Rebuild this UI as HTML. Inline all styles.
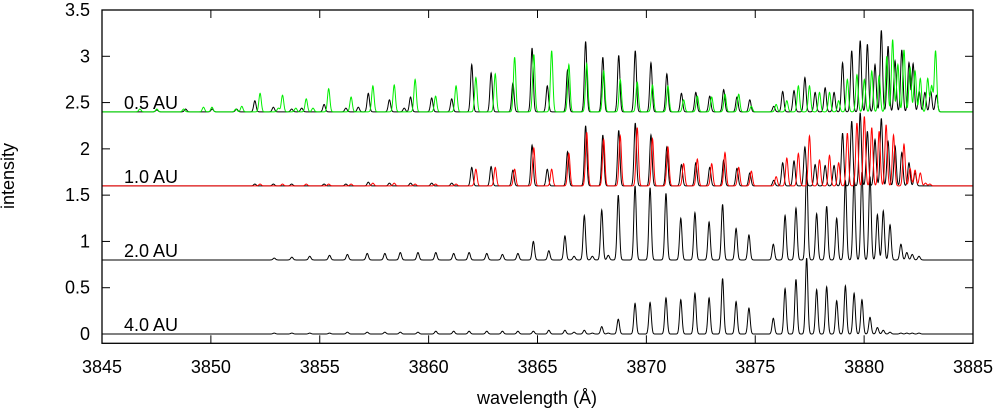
<!DOCTYPE html>
<html><head><meta charset="utf-8">
<style>
html,body{margin:0;padding:0;background:#fff;}
svg{display:block;font-family:"Liberation Sans",Arial,sans-serif;}
</style></head>
<body>
<svg id="chart" width="1000" height="413" viewBox="0 0 1000 413">
  <g id="series"></g>
  <rect x="102" y="10" width="871" height="333.3" fill="none" stroke="#000" stroke-width="1.3"/>
  <g id="axes"></g>
  <text x="14" y="176" transform="rotate(-90 14 176)" text-anchor="middle" font-size="18">intensity</text>
  <text x="537" y="404" text-anchor="middle" font-size="18">wavelength (Å)</text>
  <text x="124" y="109" font-size="18">0.5 AU</text>
  <text x="124" y="183" font-size="18">1.0 AU</text>
  <text x="124" y="257" font-size="18">2.0 AU</text>
  <text x="124" y="331" font-size="18">4.0 AU</text>
</svg>
<script>
const xTicks = [3845,3850,3855,3860,3865,3870,3875,3880,3885];
const yTicks = [0,0.5,1,1.5,2,2.5,3,3.5];
const yTickLabels = ["0","0.5","1","1.5","2","2.5","3","3.5"];
const baselines = [2.4,1.6,0.8,0];

// 0.5 AU black
const lamB05 = [3847.52,3848.84,3850.06,3851.18,3852.02,3852.87,3853.71,3854.17,3855.20,3856.20,3856.77,3857.23,3858.20,3858.88,3859.17,
 3860.14,3861.06,3861.98,3862.87,3863.87,3864.75,3865.45,3866.38,3867.21,3868.00,3868.73,3869.49,3870.21,3870.94,3871.61,3872.27,3872.91,3873.55,3874.16,3874.75,3875.85,
 3876.26,3876.78,3877.28,3877.75,3878.21,3878.62,3879.01,3879.43,3879.82,3880.15,3880.50,3880.79,3881.10,3881.42,3881.73,3882.06,3882.25,3882.53,3882.79,3883.06,3883.32];
const hB05 = [0.02,0.03,0.03,0.03,0.12,0.05,0.03,0.04,0.08,0.04,0.05,0.20,0.13,0.04,0.16,
 0.15,0.14,0.51,0.42,0.31,0.69,0.28,0.45,0.76,0.59,0.61,0.66,0.53,0.41,0.20,0.21,0.17,0.24,0.16,0.13,0.06,
 0.22,0.23,0.37,0.21,0.26,0.21,0.53,0.66,0.77,0.73,0.51,0.88,0.71,0.55,0.67,0.53,0.52,0.22,0.21,0.22,0.18];
// 0.5 AU green
const lamG05 = [3846.74,3847.52,3848.75,3849.66,3850.05,3851.15,3851.42,3852.26,3853.10,3853.29,3853.90,3854.38,3854.69,3855.41,3856.44,3857.44,3858.42,3859.38,
 3860.32,3861.26,3862.17,3863.06,3863.95,3864.83,3865.65,3866.44,3867.26,3868.04,3868.80,3869.58,3870.28,3870.99,3871.71,3872.34,3873.00,3873.61,3874.24,3874.82,3875.96,
 3876.45,3876.98,3877.49,3877.95,3878.41,3878.83,3879.23,3879.67,3880.01,3880.35,3880.69,3881.04,3881.31,3881.55,3881.83,3882.11,3882.34,3882.58,3882.92,3883.10,3883.28];
const hG05 = [0.03,0.03,0.03,0.05,0.05,0.03,0.06,0.20,0.04,0.18,0.04,0.14,0.04,0.25,0.16,0.28,0.29,0.35,
 0.17,0.28,0.37,0.41,0.59,0.62,0.66,0.51,0.52,0.44,0.35,0.32,0.29,0.28,0.13,0.17,0.16,0.19,0.19,0.06,0.08,
 0.12,0.28,0.28,0.21,0.21,0.12,0.35,0.40,0.35,0.44,0.39,0.60,0.78,0.51,0.67,0.48,0.44,0.36,0.36,0.28,0.66];
// 1.0 AU black
const lamB10 = [3852.02,3852.87,3853.71,3855.20,3856.20,3857.23,3858.20,3859.17,
 3860.14,3861.06,3861.98,3862.87,3863.87,3864.75,3865.45,3866.38,3867.21,3868.00,3868.73,3869.49,3870.21,3870.94,3871.61,3872.27,3872.91,3873.55,3874.16,3874.75,3875.85,
 3876.26,3876.78,3877.28,3877.75,3878.21,3878.62,3879.01,3879.43,3879.82,3880.15,3880.50,3880.79,3881.10,3881.42,3881.73,3882.06,3882.34];
const hB10 = [0.02,0.02,0.02,0.02,0.02,0.04,0.03,0.03,
 0.03,0.03,0.20,0.21,0.17,0.44,0.18,0.37,0.65,0.55,0.60,0.68,0.55,0.42,0.23,0.25,0.20,0.28,0.19,0.14,0.06,
 0.25,0.27,0.42,0.23,0.22,0.22,0.57,0.70,0.79,0.59,0.50,0.73,0.48,0.43,0.36,0.25,0.14];
// 1.0 AU red
const lamR10 = [3852.26,3853.29,3854.38,3855.41,3856.44,3857.44,3858.42,3859.38,
 3860.32,3861.26,3862.17,3863.06,3863.95,3864.83,3865.65,3866.44,3867.26,3868.04,3868.80,3869.58,3870.28,3870.99,3871.71,3872.34,3873.00,3873.61,3874.24,3874.82,3875.96,
 3876.45,3876.98,3877.49,3877.95,3878.41,3878.83,3879.23,3879.67,3880.01,3880.35,3880.69,3881.01,3881.35,3881.83,3882.11,3882.34,3882.58,3882.82,3883.02];
const hR10 = [0.02,0.02,0.02,0.02,0.02,0.03,0.03,0.02,
 0.02,0.02,0.18,0.20,0.18,0.41,0.18,0.35,0.58,0.50,0.54,0.63,0.51,0.42,0.24,0.29,0.24,0.36,0.20,0.16,0.10,
 0.30,0.35,0.54,0.28,0.33,0.25,0.57,0.68,0.75,0.63,0.59,0.66,0.55,0.45,0.19,0.17,0.14,0.03,0.02];
// 2.0 / 4.0 AU shared line positions
const lamFar = [3852.91,3853.72,3854.54,3855.45,3856.27,3857.18,3857.99,3858.70,3859.51,3860.33,3861.15,3861.86,3862.67,3863.39,3864.10,3864.81,3865.52,
 3866.26,3866.68,3867.15,3867.52,3867.95,3868.25,3868.71,3869.48,3870.17,3870.90,3871.58,3872.23,3872.88,3873.50,3874.12,3874.71,
 3875.83,3876.37,3876.87,3877.36,3877.82,3878.28,3878.74,3879.14,3879.54,3879.90,3880.27,3880.61,3880.88,3881.19,3881.69,3881.96,3882.21,3882.52];
const h20 = [0.02,0.03,0.04,0.05,0.06,0.07,0.07,0.08,0.08,0.08,0.07,0.08,0.07,0.06,0.07,0.20,0.10,
 0.26,0.04,0.48,0.04,0.54,0.05,0.70,0.80,0.78,0.72,0.45,0.51,0.41,0.60,0.34,0.27,
 0.17,0.48,0.56,0.97,0.50,0.58,0.45,0.86,0.90,0.95,0.90,0.49,0.53,0.38,0.17,0.08,0.06,0.04];
const h40 = [0.01,0.01,0.01,0.01,0.02,0.02,0.02,0.02,0.02,0.03,0.03,0.03,0.03,0.03,0.03,0.03,0.04,
 0.04,0.02,0.04,0.01,0.08,0.01,0.16,0.33,0.34,0.39,0.37,0.44,0.39,0.60,0.35,0.28,
 0.17,0.49,0.59,0.82,0.48,0.51,0.36,0.52,0.44,0.37,0.18,0.07,0.04,0.02,0.01,0.01,0.01,0.01];

const X0=102, X1=973, L0=3845, L1=3885;
const xs = l => X0 + (l-L0)*(X1-X0)/(L1-L0);
const ys = v => 334 - v*92.57;
const NS="http://www.w3.org/2000/svg";
const axes=document.getElementById('axes');
const series=document.getElementById('series');

xTicks.forEach(t=>{
  const x=xs(t);
  const a=document.createElementNS(NS,'line');
  a.setAttribute('x1',x);a.setAttribute('x2',x);a.setAttribute('y1',343.3);a.setAttribute('y2',335.3);a.setAttribute('stroke','#000');
  
  
  axes.appendChild(a);
  const b=document.createElementNS(NS,'line');
  b.setAttribute('x1',x);b.setAttribute('x2',x);b.setAttribute('y1',10);b.setAttribute('y2',18);b.setAttribute('stroke','#000');
  
  
  axes.appendChild(b);
  const tx=document.createElementNS(NS,'text');
  tx.setAttribute('x',x);tx.setAttribute('y',373);tx.setAttribute('text-anchor','middle');tx.setAttribute('font-size','18');
  tx.textContent=t;
  
  
  axes.appendChild(tx);
});
yTicks.forEach((t,i)=>{
  const y=ys(t);
  const a=document.createElementNS(NS,'line');
  a.setAttribute('x1',102);a.setAttribute('x2',110);a.setAttribute('y1',y);a.setAttribute('y2',y);a.setAttribute('stroke','#000');
  
  
  axes.appendChild(a);
  const b=document.createElementNS(NS,'line');
  b.setAttribute('x1',965);b.setAttribute('x2',973);b.setAttribute('y1',y);b.setAttribute('y2',y);b.setAttribute('stroke','#000');
  
  
  axes.appendChild(b);
  const tx=document.createElementNS(NS,'text');
  tx.setAttribute('x',90);tx.setAttribute('y',y+6);tx.setAttribute('text-anchor','end');tx.setAttribute('font-size','18');
  tx.textContent=yTickLabels[i];
  
  
  axes.appendChild(tx);
});

function spectrum(lams, hs, base, color, name){
  const sig=0.055; let d='';
  for(let l=L0; l<=L1+1e-9; l+=0.01){
    let v=base;
    for(let i=0;i<lams.length;i++){const dl=l-lams[i]; if(Math.abs(dl)<0.4) v+=hs[i]*Math.exp(-dl*dl/(2*sig*sig));}
    d+=(d?'L':'M')+xs(l).toFixed(2)+','+ys(v).toFixed(2);
  }
  const p=document.createElementNS(NS,'path');
  p.setAttribute('d',d);p.setAttribute('fill','none');p.setAttribute('stroke',color);p.setAttribute('stroke-width','1');
  
  
  series.appendChild(p);
}
spectrum(lamFar,h40,baselines[3],'#000','spectrum-4-0-au');
spectrum(lamFar,h20,baselines[2],'#000','spectrum-2-0-au');
spectrum(lamB10,hB10,baselines[1],'#000','spectrum-1-0-au-black');
spectrum(lamR10,hR10,baselines[1],'#ff0000','spectrum-1-0-au-red');
spectrum(lamB05,hB05,baselines[0],'#000','spectrum-0-5-au-black');
spectrum(lamG05,hG05,baselines[0],'#00ee00','spectrum-0-5-au-green');
</script>
</body></html>
